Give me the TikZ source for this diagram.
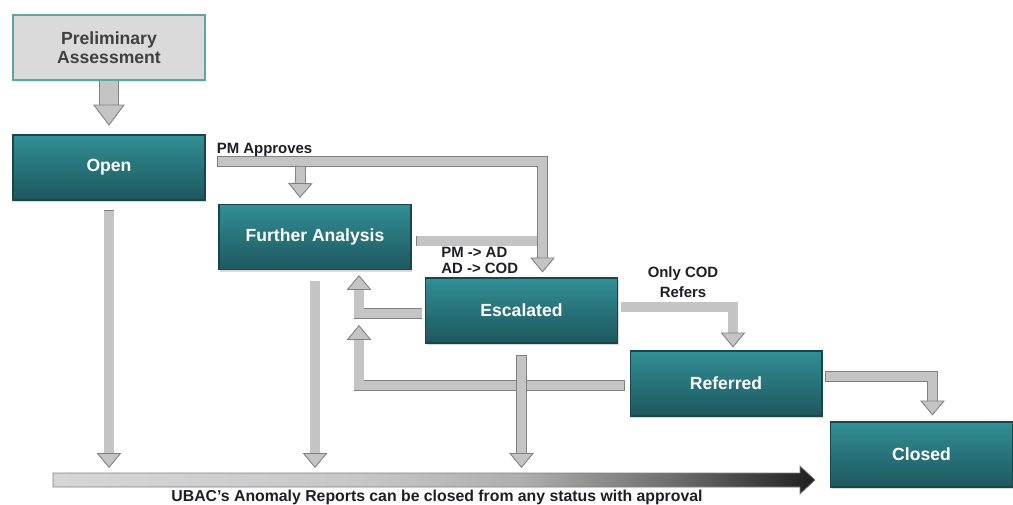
\documentclass[tikz,border=0pt]{standalone}
\usepackage{fontspec}
\setmainfont{Liberation Sans}
\usetikzlibrary{arrows.meta,calc,positioning,shadows}
\definecolor{tealtop}{RGB}{50,142,149}
\definecolor{tealbot}{RGB}{29,88,94}
\definecolor{tealedge}{RGB}{24,70,75}
\definecolor{prefill}{RGB}{218,218,218}
\definecolor{preedge}{RGB}{92,165,170}
\definecolor{flowfill}{RGB}{196,196,196}
\definecolor{flowedge}{RGB}{128,128,128}
\definecolor{lbltext}{RGB}{30,30,40}
\pgfdeclarehorizontalshading{barshade}{100bp}{color(0bp)=(black!16); color(25bp)=(black!16);
  color(45bp)=(black!22); color(56bp)=(black!32); color(66bp)=(black!58);
  color(75bp)=(black!88); color(100bp)=(black!88)}

\begin{document}
\begin{tikzpicture}[x=0.02cm,y=-0.02cm,
  state/.style={draw=tealedge,line width=0.6pt,top color=tealtop,bottom color=tealbot,
    text=white,font=\fontsize{10}{12}\selectfont\bfseries,
    minimum width=3.84cm,minimum height=1.3cm,
    drop shadow={opacity=0.3,shadow xshift=0.6pt,shadow yshift=-1.2pt}},
  prelim/.style={draw=preedge,line width=0.6pt,fill=prefill,text=black!75,align=center,
    font=\fontsize{10}{11}\selectfont\bfseries,minimum width=3.84cm,minimum height=1.3cm,
    drop shadow={opacity=0.2,shadow xshift=0.6pt,shadow yshift=-1.2pt}},
  flow/.style={draw=flowedge,line width=0.5pt,double=flowfill,double distance=5.2pt,line cap=rect,
    -{Triangle[length=8.5pt,width=14pt,fill=flowfill,line width=0.5pt]}},
  bigflow/.style={flow,double distance=10pt,line cap=butt,shorten >=5pt,
    -{Triangle[length=12pt,width=18pt,fill=flowfill,line width=0.5pt]}},
  lbl/.style={text=lbltext,font=\fontsize{8.5}{9}\selectfont\bfseries,inner sep=0pt},
  capt/.style={text=lbltext,font=\fontsize{9}{10}\selectfont\bfseries,inner sep=0pt}]
\useasboundingbox (0,0) rectangle (1013,504);

% status boxes
\node[prelim] (pa) at (109,47.5) {Preliminary\\Assessment};
\node[state] (open) at (109,167.5) {Open};
\node[state] (fa) at (315,237) {Further Analysis};
\node[state] (esc) at (521.5,310.5) {Escalated};
\node[state] (ref) at (726,383.5) {Referred};
\node[state,minimum width=3.66cm] (closed) at (921.5,454.5) {Closed};

% helper points
\coordinate (pmout) at ($(open.east)+(17,-6)$);
\coordinate (pmdrop) at ($(esc.north)+(21,-5)$);
\coordinate (faout) at ($(fa.east)+(10,4)$);
\coordinate (fain) at ($(fa.south)+(44,55)$);
\coordinate (bartop) at (53,468);

% forward flow
\draw[bigflow] (pa.south) -- (open.north);
\draw[flow,-] (faout) -- (faout -| pmdrop);
\draw[flow] (pmout) -| (pmdrop);
\draw[flow] ($(pmout)+(78,10)$) -- ($(fa.north)+(-15,-6)$);
\draw[flow] ($(esc.east)+(8,-3.5)$) -| ($(ref.north)+(7,-3)$);
\draw[flow] ($(ref.east)+(8,-7)$) -| ($(closed.north)+(11,-6)$);

% back to further analysis
\draw[flow] ($(esc.west)+(-8,3)$) -| ($(fa.south)+(44,5)$);
\draw[flow] ($(ref.west)+(-10,2)$) -| (fain);

% closing from any status
\draw[flow] ($(open.south)+(0,15)$) -- (open.south |- bartop);
\draw[flow] ($(fa.south)+(0,16)$) -- (fa.south |- bartop);
\draw[flow] ($(esc.south)+(0,17)$) -- (esc.south |- bartop);
\shadedraw[draw=flowedge,line width=0.4pt,shading=barshade]
  (53,473) -- (800,473) -- (800,466) -- (815,480) -- (800,494) -- (800,487) -- (53,487) -- cycle;

% labels
\node[lbl,anchor=base west] (pmlbl) at ($(pmout)+(-6,-8)$) {PM Approves};
\node[lbl,align=left,anchor=base west] (esclbl) at ($(esc.north west)+(16,-4)$) {PM -> AD\\AD -> COD};
\node[lbl,align=center,anchor=base] (reflbl) at ($(esc.north east)+(65,20)$) {Only COD\\[2.5pt]Refers};
\node[capt,anchor=base] (note) at (437,501) {UBAC's Anomaly Reports can be closed from any status with approval};
\end{tikzpicture}
\end{document}
